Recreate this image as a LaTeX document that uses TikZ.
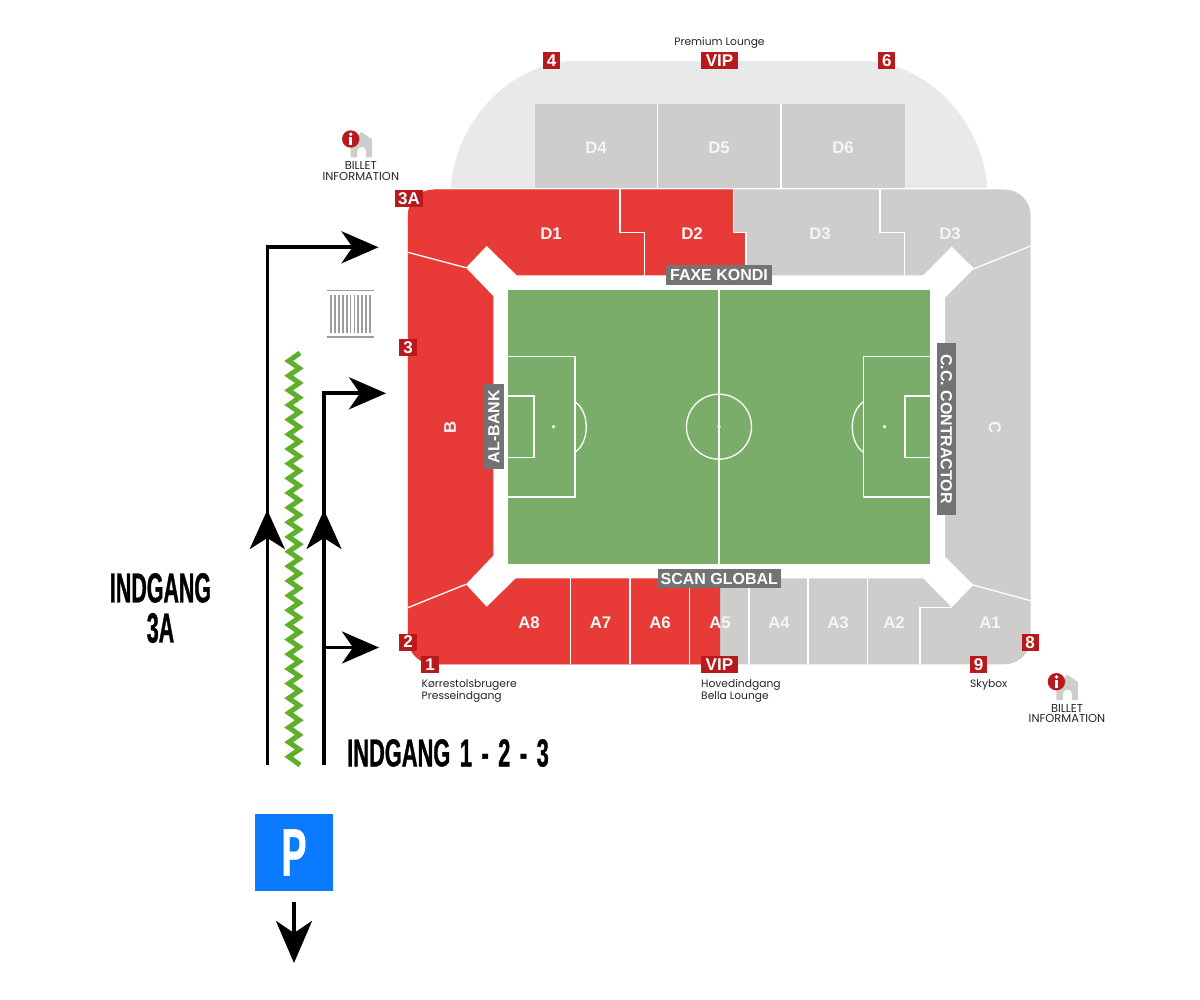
\documentclass[tikz,border=0pt]{standalone}
\usepackage{fontspec}
\setmainfont{Liberation Sans}
\newfontfamily\smallf{Poppins}
\newfontfamily\condf[FakeStretch=0.51,FakeBold=0.8]{Liberation Sans Bold}
\newfontfamily\condg[FakeStretch=0.56,FakeBold=0.8]{Liberation Sans Bold}
\usetikzlibrary{arrows.meta}
\definecolor{standred}{HTML}{E83B38}
\definecolor{standgrey}{HTML}{CDCDCB}
\definecolor{standlight}{HTML}{E9E9E9}
\definecolor{pitchgreen}{HTML}{7AAD6A}
\definecolor{badgered}{HTML}{B8191D}
\definecolor{boardgrey}{HTML}{737373}
\definecolor{parkblue}{HTML}{0A7BFF}
\definecolor{hedge}{HTML}{5CB02C}
\definecolor{gategrey}{HTML}{9C9C9C}
\tikzset{
  seclabel/.style={inner sep=0pt,yshift=-0.7pt,text=white!96!black,font=\bfseries\fontsize{16.8}{16.8}\selectfont},
  badgebox/.style={fill=badgered,text=white,inner sep=0pt,minimum width=17.3pt,minimum height=17pt,font=\bfseries\fontsize{17}{17}\selectfont},
  board/.style={fill=boardgrey,text=white,inner sep=0pt,minimum height=19.5pt,font=\bfseries\fontsize{16}{16}\selectfont},
  caption/.style={inner sep=0pt,text=black!85,font=\smallf\fontsize{10.7}{12}\selectfont},
  infotext/.style={inner sep=0pt,text=black!85,align=center,font=\smallf\fontsize{11.5}{10.3}\selectfont},
  bigtext/.style={inner sep=0pt,text=black,align=center,font=\condf\fontsize{42}{40}\selectfont},
  pitchline/.style={draw=white,line width=1.3pt},
  divider/.style={draw=white,line width=1.3pt},
  route/.style={draw=black,line width=3.6pt,line join=miter},
  bighead/.style={-{Stealth[length=37pt,width=32pt,inset=11pt]}},
  uphead/.style={-{Stealth[length=39pt,width=35pt,inset=11pt]}},
}
\newcommand{\infoicon}[3]{%
  \begin{scope}[shift={(#2,#3)}]
    \fill[standgrey] (0,0) -- (0,-11) -- (10.5,-25.5) -- (21.5,-18) -- (21.5,0) -- (15.5,0) -- (15.5,-6) arc[start angle=0,end angle=180,radius=4.5pt] -- (6.5,0) -- cycle;
    \fill[badgered] (0,-18.3) circle[radius=8.7];
    \fill[white] (0,-23) circle[radius=1.9];
    \fill[white] (-1.7,-20) rectangle (1.7,-12.5);
  \end{scope}
}
\begin{document}
\begin{tikzpicture}[x=1pt,y=-1pt]
\useasboundingbox (0,0) rectangle (1200,1000);
\fill[white] (0,0) rectangle (1200,1000);
% upper stand
\fill[standlight] (450.7,188) .. controls (455,125) and (505,66) .. (570,61) -- (868,61) .. controls (933,66) and (983,125) .. (987.3,188) -- cycle;
\fill[standgrey] (534.6,104) rectangle (905,188);
\draw[divider] (657.5,104) -- (657.5,188);
\draw[divider] (781,104) -- (781,188);
% main stand
\begin{scope}
  \clip[rounded corners=26pt] (407.8,189.5) rectangle (1030.6,664.3);
  \fill[standgrey] (400,180) rectangle (1040,670);
  \fill[standred] (400,180) -- (733.3,180) -- (733.3,232.3) -- (746,232.3) -- (746,300) -- (720,300) -- (720,670) -- (400,670) -- cycle;
\end{scope}
% dividers
\draw[divider] (407.8,252.3) -- (466,267.7);
\draw[divider] (620,189.5) -- (620,232.3) -- (644.3,232.3) -- (644.3,276);
\draw[divider] (733.3,189.5) -- (733.3,232.3) -- (746,232.3) -- (746,276);
\draw[divider] (880,189.5) -- (880,232.3) -- (904.3,232.3) -- (904.3,276);
\draw[divider] (974,268.7) -- (1030.6,246);
\draw[divider] (466,584.3) -- (407.8,607.7);
\draw[divider] (570.7,578) -- (570.7,664.3);
\draw[divider] (630,578) -- (630,664.3);
\draw[divider] (689.3,578) -- (689.3,664.3);
\draw[divider] (749,578) -- (749,664.3);
\draw[divider] (808,578) -- (808,664.3);
\draw[divider] (867.3,578) -- (867.3,664.3);
\draw[divider] (920,664.3) -- (920,607.3) -- (951.7,607.3);
\draw[divider] (973.3,585) -- (1030.6,600.7);
% white concourse
\fill[white] (516.7,275.3) -- (486.7,246) -- (466,267.7) -- (493.3,296) -- (493.3,555.7) -- (466,584.3) -- (486.7,606.7) -- (515.7,578.3)
  -- (923.3,578.3) -- (951.7,607.3) -- (973.3,585) -- (945,556.7) -- (945,297.7) -- (974,268.7) -- (951.7,246.7) -- (923.3,275.3) -- cycle;
% pitch
\fill[pitchgreen] (508.3,290) rectangle (930,563.6);
\draw[pitchline] (719,290) -- (719,563.6);
\draw[pitchline] (719,426.7) circle[radius=32.5];
\draw[pitchline] (508.3,356.3) -- (575,356.3) -- (575,497) -- (508.3,497);
\draw[pitchline] (508.3,396) -- (534,396) -- (534,457.5) -- (508.3,457.5);
\draw[pitchline] (575,401.7) .. controls (590,412) and (590,442) .. (575,452.3);
\fill[white] (553.5,426.7) circle[radius=1.8];
\draw[pitchline] (930,356.3) -- (863.5,356.3) -- (863.5,497) -- (930,497);
\draw[pitchline] (930,396) -- (905,396) -- (905,457.5) -- (930,457.5);
\draw[pitchline] (863.5,401.7) .. controls (848.5,412) and (848.5,442) .. (863.5,452.3);
\fill[white] (884.5,426.7) circle[radius=1.8];
\fill[white] (719,426.7) circle[radius=1.8];
% section labels
\node[seclabel] (d4) at (596,147) {D4};
\node[seclabel] (d5) at (719,147) {D5};
\node[seclabel] (d6) at (843,147) {D6};
\node[seclabel] (d1) at (551,233) {D1};
\node[seclabel] (d2) at (692,233) {D2};
\node[seclabel] (d3a) at (820,233) {D3};
\node[seclabel] (d3b) at (950,233) {D3};
\node[seclabel] (a8) at (529,622) {A8};
\node[seclabel] (a7) at (600.5,622) {A7};
\node[seclabel] (a6) at (660,622) {A6};
\node[seclabel] (a5) at (720,622) {A5};
\node[seclabel] (a4) at (779,622) {A4};
\node[seclabel] (a3) at (838,622) {A3};
\node[seclabel] (a2) at (894,622) {A2};
\node[seclabel] (a1) at (990,622) {A1};
\node[seclabel,rotate=90] (b) at (450,427) {B};
\node[seclabel,rotate=-90] (c) at (995,427) {C};
% boards
\node[board,minimum width=106.6pt] (faxe) at (719,275) {FAXE KONDI};
\node[board,minimum width=123.4pt] (scan) at (719.3,578.5) {SCAN GLOBAL};
\node[board,rotate=90,minimum width=85.3pt] (albank) at (493.8,426.7) {AL-BANK};
\node[board,rotate=-90,minimum width=172.5pt] (cc) at (946.3,429) {C.C. CONTRACTOR};
% badges
\node[badgebox] (b4) at (551.5,61) {4};
\node[badgebox,minimum width=36.5pt] (bvipt) at (719.5,61) {VIP};
\node[badgebox] (b6) at (886.8,61) {6};
\node[badgebox,minimum width=27.4pt] (b3a) at (409,198.7) {3A};
\node[badgebox] (b3) at (408,347.5) {3};
\node[badgebox] (b2) at (408,642) {2};
\node[badgebox] (b1) at (430,664.5) {1};
\node[badgebox,minimum width=36.7pt] (bvipb) at (719.4,664.5) {VIP};
\node[badgebox] (b9) at (978.5,664.3) {9};
\node[badgebox] (b8) at (1030.2,642.2) {8};
% captions
\node[caption] (cap0) at (719.5,43) {Premium Lounge};
\node[caption,anchor=west] (cap1) at (421.5,684.5) {Kørrestolsbrugere};
\node[caption,anchor=west] (cap2) at (421.5,696.5) {Presseindgang};
\node[caption,anchor=west] (cap3) at (701,684.5) {Hovedindgang};
\node[caption,anchor=west] (cap4) at (701,696.5) {Bella Lounge};
\node[caption,anchor=west] (cap5) at (970,684.5) {Skybox};
% billet information
\infoicon{i1}{350.7}{157.3}
\node[infotext] (info1) at (360.8,171) {BILLET\\[0pt]INFORMATION};
\infoicon{i2}{1056.4}{700}
\node[infotext] (info2) at (1067,713.7) {BILLET\\[0pt]INFORMATION};
% gate
\draw[gategrey,line width=1.6pt] (327.3,290.7) -- (374,290.7);
\draw[gategrey,line width=1.6pt] (327.3,337.3) -- (374,337.3);
\foreach \k in {0,...,10} {\draw[gategrey,line width=1.8pt] (331.3+\k*3.85,295) -- (331.3+\k*3.85,333);}
% hedge
\draw[hedge,line width=5pt,line join=miter] (300,353)
  \foreach \i in {0,...,26} { -- (288.7,361+\i*14.66) -- (299.3,368.33+\i*14.66) }
  -- (288.7,756.8) -- (300,765);
% routes
\coordinate (r1s) at (267.3,765);
\coordinate (r1e) at (378.5,247.3);
\coordinate (r1ua) at (267.3,560);
\coordinate (r1ub) at (267.3,510);
\coordinate (r2s) at (324,765);
\coordinate (r2e) at (386,393.3);
\coordinate (r2ua) at (324,560);
\coordinate (r2ub) at (324,510);
\coordinate (r3s) at (324,647.5);
\coordinate (r3e) at (379,647.5);
\draw[route,bighead] (r1s) |- (r1e);
\draw[route,bighead] (r2s) |- (r2e);
\draw[route,bighead] (r3s) -- (r3e);
\draw[route,uphead] (r1ua) -- (r1ub);
\draw[route,uphead] (r2ua) -- (r2ub);
% texts
\node[bigtext] (ind3a) at (160.5,608) {INDGANG\\3A};
\node[bigtext,anchor=west,font=\condg\fontsize{39}{39}\selectfont] (ind123) at (347,753) {\spaceskip=9.5pt INDGANG 1 - 2 - 3};
% parking
\node[fill=parkblue,text=white,inner sep=0pt,minimum size=77.4pt,font=\condg\fontsize{67}{67}\selectfont] (park) at (294,852.5) {P};
\coordinate (parkout) at (294,963);
\draw[route,line width=4pt,-{Stealth[length=42pt,width=36pt,inset=12pt]}] (294,902) -- (parkout);
\end{tikzpicture}
\end{document}
